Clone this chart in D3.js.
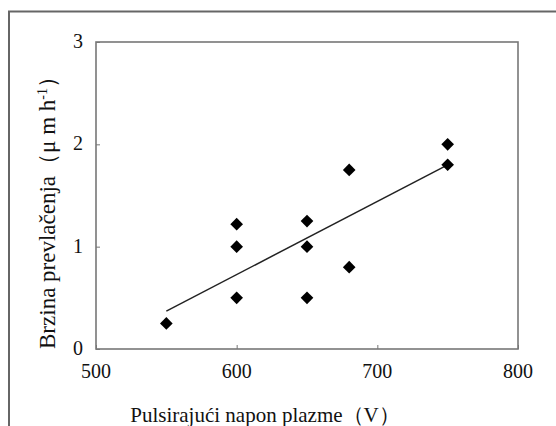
<!DOCTYPE html>
<html><head><meta charset="utf-8">
<script src="https://cdn.jsdelivr.net/npm/d3@7"></script>
<style>body{margin:0;background:#fff;} svg{display:block;} text{font-family:"Liberation Serif","Tinos","Times New Roman","DejaVu Serif",serif;}</style>
</head><body>
<svg id="c" width="556" height="426"></svg>
<script>
const voltage = [550, 600, 600, 600, 650, 650, 650, 680, 680, 750, 750];
const rate    = [0.25, 1.22, 1.0, 0.5, 1.25, 1.0, 0.5, 0.8, 1.75, 2.0, 1.8];
const fitX = [550, 750];
const fitY = [0.37, 1.80];
const xTicks = [500, 600, 700, 800];
const yTicks = [0, 1, 2, 3];
const xTitle = "Pulsirajući napon plazme（V）";
const yTitle = "Brzina prevlačenja（μ m h";

const svg = d3.select("#c");
const L = 96, R = 518, T = 42, B = 349;
const x = d3.scaleLinear().domain([500, 800]).range([L, R]);
const y = d3.scaleLinear().domain([0, 3]).range([B, T]);

svg.append("rect").attr("width", 556).attr("height", 426).attr("fill", "#fff");
// outer frame
svg.append("rect").attr("x", 9).attr("y", 11.5).attr("width", 600).attr("height", 500)
  .attr("fill", "none").attr("stroke", "#666").attr("stroke-width", 2);

// plot box
svg.append("rect").attr("x", L).attr("y", T).attr("width", R - L).attr("height", B - T)
  .attr("fill", "none").attr("stroke", "#777").attr("stroke-width", 1.6);

// axes ticks (inward)
const xa = svg.append("g").attr("transform", `translate(0,${B})`)
  .call(d3.axisTop(x).tickValues(xTicks).tickSize(4).tickFormat(""));
xa.select(".domain").remove();
xa.selectAll("line").attr("stroke", "#777");
const ya = svg.append("g").attr("transform", `translate(${L},0)`)
  .call(d3.axisRight(y).tickValues(yTicks).tickSize(4).tickFormat(""));
ya.select(".domain").remove();
ya.selectAll("line").attr("stroke", "#777");

// tick labels
svg.append("g").selectAll("text").data(xTicks).join("text")
  .attr("x", d => x(d)).attr("y", 378).attr("text-anchor", "middle")
  .attr("font-size", 20).attr("fill", "#111").text(d => d);
svg.append("g").selectAll("text").data(yTicks).join("text")
  .attr("x", 83).attr("y", d => y(d) + 6).attr("text-anchor", "end")
  .attr("font-size", 20).attr("fill", "#111").text(d => d);

// titles
svg.append("text").attr("x", 265).attr("y", 422).attr("text-anchor", "middle")
  .attr("font-size", 21).attr("fill", "#111").text(xTitle);
const yt = svg.append("text").attr("transform", "translate(55,207) rotate(-90)")
  .attr("text-anchor", "middle").attr("font-size", 23).attr("fill", "#111");
yt.append("tspan").text(yTitle);
yt.append("tspan").attr("dy", -8).attr("font-size", 14).text("-1");
yt.append("tspan").attr("dy", 8).text("）");

// fit line
const line = d3.line().x(d => x(d[0])).y(d => y(d[1]));
svg.append("path").datum(fitX.map((v, i) => [v, fitY[i]])).attr("d", line)
  .attr("fill", "none").attr("stroke", "#222").attr("stroke-width", 1.5);

// points
const sym = d3.symbol().type(d3.symbolSquare).size(80);
svg.append("g").selectAll("path").data(voltage.map((v, i) => [v, rate[i]])).join("path")
  .attr("d", sym)
  .attr("transform", d => `translate(${x(d[0])},${y(d[1])}) rotate(45)`)
  .attr("fill", "#000");
</script>
</body></html>
